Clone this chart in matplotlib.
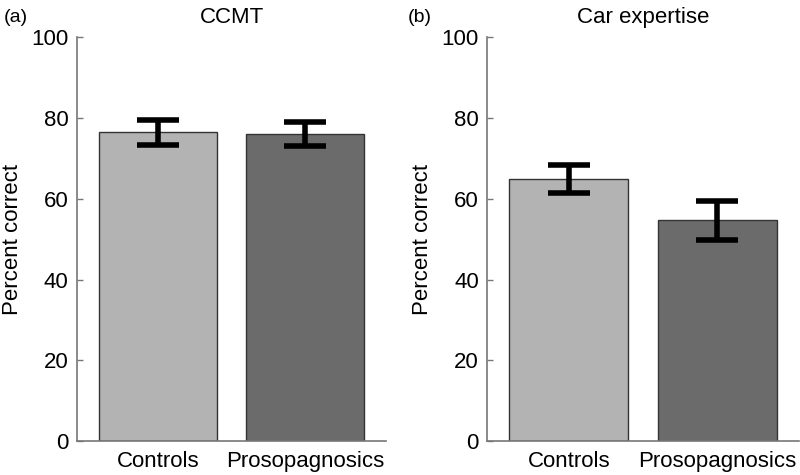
import matplotlib
matplotlib.use("Agg")
import matplotlib.pyplot as plt

plt.rcParams['font.family'] = ['Liberation Sans', 'DejaVu Sans']

groups = ["Controls", "Prosopagnosics"]
bar_colors = ["#b3b3b3", "#6b6b6b"]

ccmt_means = [76.5, 76.0]
ccmt_err = [3.1, 2.9]
car_means = [64.9, 54.7]
car_err = [3.5, 4.8]

panels = [("(a)", "CCMT", ccmt_means, ccmt_err),
          ("(b)", "Car expertise", car_means, car_err)]

fig = plt.figure(figsize=(8, 4.75), dpi=100)
axes_pos = [[0.096, 0.071, 0.387, 0.851], [0.609, 0.071, 0.39, 0.851]]
letter_x = [0.005, 0.51]

for i, (letter, title, means, errs) in enumerate(panels):
    ax = fig.add_axes(axes_pos[i])
    ax.bar(range(2), means, width=0.8, color=bar_colors,
           edgecolor="#333333", linewidth=1.0)
    ax.errorbar(range(2), means, yerr=errs, fmt="none", ecolor="black",
                elinewidth=4, capsize=15, capthick=4)
    ax.set_xlim(-0.55, 1.55)
    ax.set_ylim(0, 100)
    ax.set_yticks([0, 20, 40, 60, 80, 100])
    ax.set_xticks(range(2))
    ax.set_xticklabels(groups, fontsize=16)
    ax.tick_params(axis="x", length=0, pad=7)
    ax.tick_params(axis="y", labelsize=16, direction="in", length=4,
                   color="#777777", width=1, pad=6)
    ax.set_ylabel("Percent correct", fontsize=16, labelpad=6)
    for s in ["top", "right"]:
        ax.spines[s].set_visible(False)
    for s in ["left", "bottom"]:
        ax.spines[s].set_color("#777777")
        ax.spines[s].set_linewidth(1.2)
    ax.set_title(title, fontsize=16, pad=10)
    fig.text(letter_x[i], 0.98, letter, fontsize=14, va="top", ha="left")

plt.savefig("out.png", dpi=100)
